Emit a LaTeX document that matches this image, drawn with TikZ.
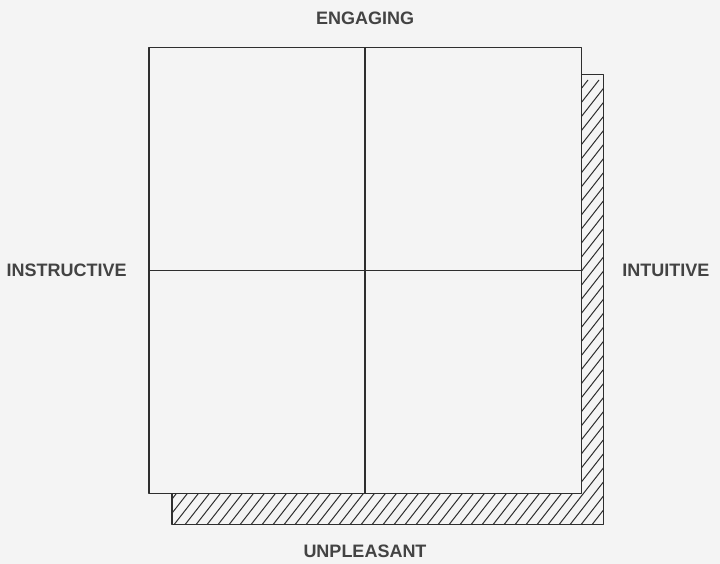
\documentclass[tikz,border=0pt]{standalone}
\usepackage{fontspec}
\setsansfont{Liberation Sans}
\usetikzlibrary{positioning, calc}
\definecolor{Paper}{HTML}{F4F4F4}
\definecolor{Ink}{HTML}{2E2E2E}
\tikzset{
    axislabel/.style={font=\sffamily\bfseries\fontsize{18}{18}\selectfont, text=Ink!90, inner sep=0pt},
    sketch/.style={draw=Ink, line width=1.4pt, line join=round},
    hatchline/.style={draw=Ink, line width=1pt},
}
\begin{document}
\begin{tikzpicture}[x=1pt, y=-1pt]
    % Papier
    \fill[Paper] (0,0) rectangle (720,564);
    \useasboundingbox (0,0) rectangle (720,564);

    % Quadrat
    \node[minimum width=432pt, minimum height=445pt, inner sep=0pt] (quad) at (365,270.5) {};

    % Schatten (schraffiert)
    \coordinate (shne) at ($(quad.north east)+(22,27)$);
    \coordinate (shse) at ($(quad.south east)+(22,31)$);
    \coordinate (shsw) at ($(quad.south west)+(23,31)$);
    \begin{scope}
        \clip (quad.east |- shne) -- (shne) -- (shse) -- (shsw) -- (shsw |- quad.south) -- (quad.south east) -- cycle;
        \foreach \s in {-300,-289,...,640} \draw[hatchline] (\s,540) -- ++(360,-460);
    \end{scope}
    \draw[sketch] (quad.east |- shne) -- (shne) -- (shse) -- (shsw) -- (shsw |- quad.south);

    % Rahmen und Kreuz
    \draw[sketch] (quad.north west) rectangle (quad.south east);
    \draw[sketch] (quad.north) -- (quad.south);
    \draw[sketch] (quad.west) -- (quad.east);

    % Achsen
    \node[axislabel, above=23pt of quad] (engaging) {ENGAGING};
    \node[axislabel, below=21pt of shse -| quad.south, anchor=north] (unpleasant) {UNPLEASANT};
    \node[axislabel, left=22pt of quad] (instructive) {INSTRUCTIVE};
    \node[axislabel, right=19pt of shne |- quad.east] (intuitive) {INTUITIVE};
\end{tikzpicture}
\end{document}
